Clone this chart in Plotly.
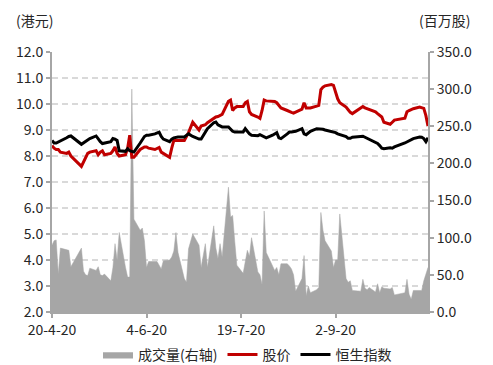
import pandas as pd
import plotly.graph_objects as go

# Hong Kong trading days, 20 Apr 2020 - 16 Oct 2020
start_date = "2020-04-20"
end_date = "2020-10-16"
market_holidays = ["2020-04-30", "2020-05-01", "2020-06-25",
                   "2020-07-01", "2020-10-01", "2020-10-02"]
trade_dates = [d for d in pd.bdate_range(start_date, end_date)
               if d.strftime("%Y-%m-%d") not in market_holidays]

# Daily turnover (million shares), right axis
volume = [
    90, 96, 97, 51, 86,        # Apr 20-24
    84, 83, 61,                # Apr 27-29
    86, 55, 50, 49, 59,        # May 4-8
    56, 61, 50, 49, 51,        # May 11-15
    42, 60, 92, 70, 107,       # May 18-22
    60, 47, 47, 300, 125,      # May 25-29
    110, 113, 96, 60, 68,      # Jun 1-5
    68, 68, 63, 58, 69,        # Jun 8-12
    70, 74, 82, 107, 80,       # Jun 15-19
    45, 40, 85, 105,           # Jun 22-26
    90, 60, 92, 60,            # Jun 29-Jul 3
    116, 86, 72, 92, 74,       # Jul 6-10
    168, 128, 130, 95, 63,     # Jul 13-17
    52, 70, 83, 75, 100,       # Jul 20-24
    54, 50, 37, 136, 80,       # Jul 27-31
    63, 56, 60, 50, 65,        # Aug 3-7
    65, 62, 58, 50, 28,        # Aug 10-14
    45, 76, 22, 35, 26,        # Aug 17-21
    30, 33, 134, 110, 96,      # Aug 24-28
    82, 60, 70, 70, 132,       # Aug 31-Sep 4
    45, 40, 42, 29, 29,        # Sep 7-11
    28, 44, 32, 30, 33,        # Sep 14-18
    27, 38, 26, 34, 32,        # Sep 21-25
    31, 33, 23,                # Sep 28-30
    26, 44, 24, 17, 29,        # Oct 5-9
    29, 29, 42, 50, 60,        # Oct 12-16
]

# Share price (HKD), left axis
share_price = [
    8.4, 8.3, 8.25, 8.25, 8.15,
    8.1, 8.15, 8.0,
    7.6, 7.75, 7.9, 8.1, 8.15,
    8.2, 8.05, 8.15, 8.2, 8.05,
    8.1, 8.2, 8.35, 8.1, 8.0,
    8.05, 8.3, 8.8, 7.95, 7.95,
    8.25, 8.3, 8.35, 8.35, 8.3,
    8.25, 8.3, 8.33, 8.15, 8.1,
    7.95, 8.3, 8.6, 8.6, 8.6,
    8.6, 8.75, 8.9, 9.3,
    9.0, 9.15, 9.2, 9.28,
    9.45, 9.5, 9.52, 9.57, 9.6,
    10.1, 10.15, 9.75, 9.85, 9.9,
    9.9, 10.05, 10.1, 9.7, 9.6,
    9.5, 9.45, 9.75, 10.15, 10.12,
    10.1, 10.1, 10.05, 9.95, 9.85,
    9.75, 9.7, 9.68, 9.65, 9.68,
    9.8, 10.05, 9.85, 9.85, 9.85,
    9.92, 9.95, 10.55, 10.65, 10.7,
    10.75, 10.72, 10.45, 10.2, 10.05,
    9.88, 9.78, 9.68, 9.63, 9.68,
    9.85, 9.9, 9.85, 9.82, 9.78,
    9.7, 9.63, 9.58, 9.5, 9.3,
    9.22, 9.3, 9.38,
    9.45, 9.7, 9.75, 9.8, 9.82,
    9.88, 9.85, 9.83, 9.55, 9.15,
]

# Hang Seng Index, rebased onto the left axis
hsi_rebased = [
    8.6, 8.5, 8.5, 8.54, 8.55,
    8.7, 8.75, 8.77,
    8.45, 8.5, 8.55, 8.6, 8.67,
    8.77, 8.65, 8.55, 8.48, 8.5,
    8.55, 8.67, 8.65, 8.6, 8.2,
    8.18, 8.28, 8.2, 8.18, 8.15,
    8.5, 8.65, 8.75, 8.8, 8.8,
    8.85, 8.9, 8.92, 8.75, 8.65,
    8.55, 8.65, 8.7, 8.73, 8.73,
    8.73, 8.78, 8.85, 8.75,
    8.65, 8.65, 8.92, 9.05,
    9.28, 9.31, 9.2, 9.15, 9.12,
    9.12, 9.05, 8.95, 8.92, 8.92,
    8.92, 9.05, 8.95, 8.85, 8.8,
    8.78, 8.82, 8.78, 8.72, 8.7,
    8.8, 8.85, 8.9, 8.7, 8.67,
    8.85, 8.92, 8.92, 8.93, 8.95,
    9.05, 8.85, 8.82, 8.9, 8.95,
    9.05, 9.05, 9.03, 9.03, 9.0,
    8.95, 8.92, 8.9, 8.85, 8.82,
    8.75, 8.68, 8.68, 8.72, 8.73,
    8.75, 8.76, 8.72, 8.68, 8.67,
    8.55, 8.48, 8.4, 8.3, 8.28,
    8.32, 8.3, 8.35,
    8.5, 8.55, 8.6, 8.63, 8.67,
    8.73, 8.72, 8.67, 8.55, 8.7,
]

assert len(trade_dates) == len(volume) == len(share_price) == len(hsi_rebased)

x_tick_dates = ["2020-04-20", "2020-06-04", "2020-07-19", "2020-09-02"]
x_tick_labels = ["20-4-20", "4-6-20", "19-7-20", "2-9-20"]
series_names = ["成交量(右轴)", "股价", "恒生指数"]

FONT = "Noto Sans CJK SC, Microsoft YaHei, sans-serif"
TXT = "#262626"
AXIS = "#A6A6A6"
TICKFONT = dict(family=FONT, size=14, color=TXT)

fig = go.Figure()

# Volume area on the primary (right-hand) axis so it sits beneath the lines
fig.add_trace(go.Scatter(
    x=trade_dates, y=volume, name=series_names[0],
    mode="lines", line=dict(color="#A6A6A6", width=0.5),
    fill="tozeroy", fillcolor="#A6A6A6", yaxis="y",
))
fig.add_trace(go.Scatter(
    x=trade_dates, y=share_price, name=series_names[1],
    mode="lines", line=dict(color="#C00000", width=3), yaxis="y2",
))
fig.add_trace(go.Scatter(
    x=trade_dates, y=hsi_rebased, name=series_names[2],
    mode="lines", line=dict(color="#000000", width=3), yaxis="y2",
))

fig.update_layout(
    width=493, height=365,
    margin=dict(l=52, r=65, t=52, b=53, autoexpand=False),
    paper_bgcolor="white", plot_bgcolor="white",
    font=dict(family=FONT, size=13, color=TXT),
    showlegend=True,
    legend=dict(orientation="h", x=0.52, xanchor="center",
                y=-0.165, yanchor="middle",
                font=dict(family=FONT, size=14, color=TXT),
                itemwidth=30, traceorder="normal"),
    xaxis=dict(
        type="date", range=[start_date, end_date],
        tickvals=x_tick_dates, ticktext=x_tick_labels,
        showgrid=False, showline=True, linecolor=AXIS, linewidth=2,
        ticks="outside", ticklen=4, tickcolor=AXIS, tickwidth=2,
        tickfont=TICKFONT,
    ),
    yaxis=dict(
        side="right", range=[0, 350], dtick=50, tickformat=".1f",
        showgrid=False, zeroline=False,
        showline=True, linecolor=AXIS, linewidth=2,
        ticks="outside", ticklen=4, tickcolor=AXIS, tickwidth=2,
        tickfont=TICKFONT,
    ),
    yaxis2=dict(
        side="left", overlaying="y", range=[2, 12], dtick=1,
        tickformat=".1f", zeroline=False,
        showgrid=True, gridcolor="#D9D9D9", gridwidth=1.5, griddash="6px,4px",
        showline=True, linecolor=AXIS, linewidth=2,
        ticks="outside", ticklen=4, tickcolor=AXIS, tickwidth=2,
        tickfont=TICKFONT,
    ),
    annotations=[
        dict(text="(港元)", xref="paper", yref="paper", x=-0.1, y=1.123,
             xanchor="left", yanchor="middle", showarrow=False,
             font=dict(family=FONT, size=14, color=TXT)),
        dict(text="(百万股)", xref="paper", yref="paper", x=1.117, y=1.123,
             xanchor="right", yanchor="middle", showarrow=False,
             font=dict(family=FONT, size=14, color=TXT)),
    ],
)

fig.write_html("out.html")
